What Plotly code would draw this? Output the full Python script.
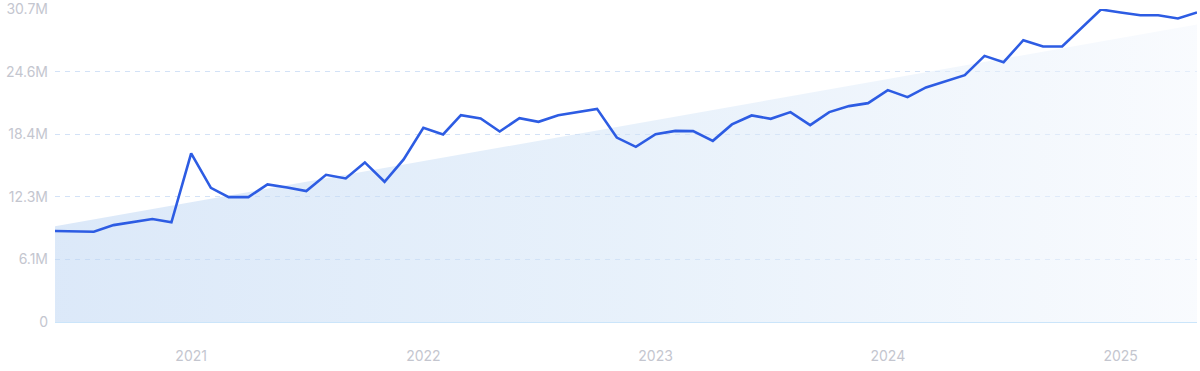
import plotly.graph_objects as go
import pandas as pd

# Monthly series, Jun 2020 .. May 2025 (values in millions)
months = pd.date_range("2020-06-01", "2025-05-01", freq="MS")
values = [
    8.93, 8.90, 8.86, 9.51, 9.81, 10.10, 9.78,          # Jun-Dec 2020
    16.55, 13.17, 12.26, 12.26, 13.50, 13.20, 12.85, 14.45, 14.09, 15.66, 13.76, 15.96,  # 2021
    19.06, 18.41, 20.30, 19.98, 18.70, 20.01, 19.65, 20.30, 20.63, 20.92, 18.10, 17.19,  # 2022
    18.44, 18.76, 18.73, 17.78, 19.39, 20.27, 19.94, 20.60, 19.32, 20.60, 21.19, 21.48,  # 2023
    22.76, 22.07, 23.02, 23.64, 24.23, 26.12, 25.50, 27.66, 27.04, 27.04, 28.86, 30.67,  # 2024
    30.38, 30.11, 30.11, 29.79, 30.38,                                                    # 2025
]

# Trend line end points (millions)
trend_dates = [months[0], months[-1]]
trend_values = [9.40, 29.20]

y_tickvals = [0, 6.14, 12.28, 18.42, 24.56, 30.7]
y_ticktext = ["0", "6.1M", "12.3M", "18.4M", "24.6M", "30.7M"]
x_tickvals = ["2021-01-01", "2022-01-01", "2023-01-01", "2024-01-01", "2025-01-01"]
x_ticktext = ["2021", "2022", "2023", "2024", "2025"]

fig = go.Figure()
fig.add_trace(go.Scatter(
    x=trend_dates, y=trend_values, mode="lines",
    line=dict(width=0, color="rgba(0,0,0,0)"),
    fill="tozeroy",
    fillgradient=dict(type="horizontal",
                      colorscale=[[0, "rgba(187,212,243,0.52)"],
                                  [0.5, "rgba(210,228,247,0.52)"],
                                  [1, "rgba(243,247,253,0.52)"]]),
    hoverinfo="skip", showlegend=False,
))
fig.add_trace(go.Scatter(
    x=months, y=values, mode="lines",
    line=dict(color="#2d5ce3", width=2.6),
    showlegend=False,
))

fig.update_layout(
    width=1200, height=371,
    margin=dict(l=55, r=3, t=9, b=49, autoexpand=False),
    paper_bgcolor="white", plot_bgcolor="white",
    font=dict(family="Inter, Roboto, sans-serif", size=14, color="#c4c6cf"),
)
fig.update_xaxes(
    range=[months[0], months[-1]],
    tickvals=x_tickvals, ticktext=x_ticktext,
    showgrid=False, zeroline=False, showline=False, automargin=False,
    ticks="", ticklabelstandoff=24,
)
fig.update_yaxes(
    range=[0, 30.72],
    tickvals=y_tickvals, ticktext=y_ticktext,
    showgrid=True, gridcolor="#d3e2f7", griddash="5px,5px", gridwidth=1,
    zeroline=True, zerolinecolor="#cbe5fa", zerolinewidth=1,
    showline=False, ticks="", ticklabelstandoff=6, automargin=False,
)

fig.write_html("out.html", config={"displayModeBar": False},
               post_script="document.body.style.margin='0';")
